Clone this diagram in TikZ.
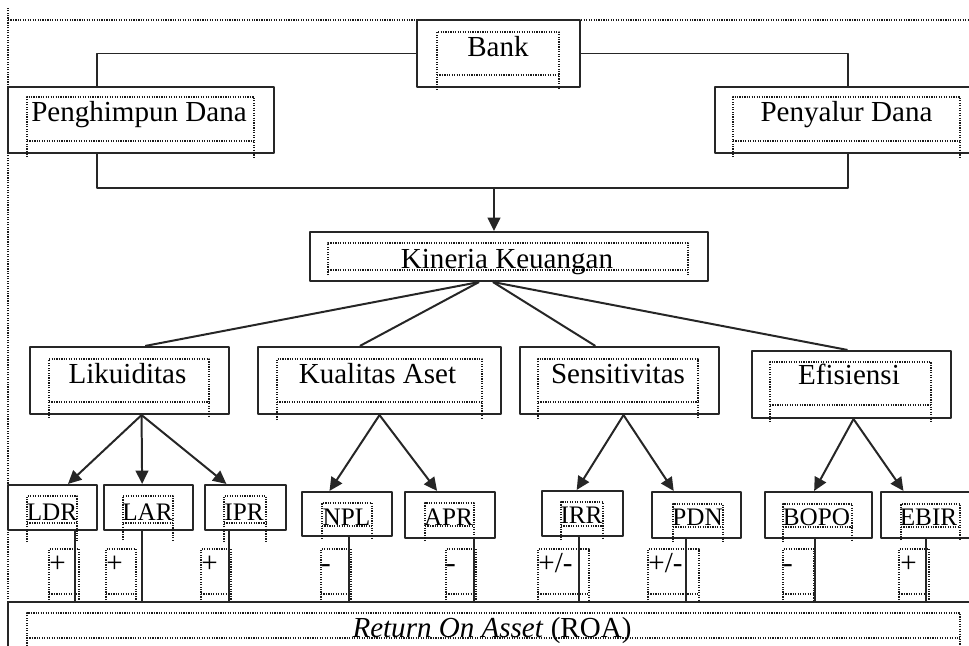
\documentclass[tikz,border=0pt]{standalone}
\usepackage{fontspec}
\setmainfont{Liberation Serif}
\usetikzlibrary{arrows.meta,fit,calc}
% dotted text frame: x1, y1, x2, y2 (bottom line), y3 (end of sides)
\newcommand{\frm}[5]{\draw[frm] (#1,#5) -- (#1,#2) -- (#3,#2) -- (#3,#5) (#1,#4) -- (#3,#4);}

\begin{document}
\begin{tikzpicture}[x=0.03cm,y=-0.03cm,line join=round,
  >={Triangle[length=4mm,width=3.8mm]},
  box/.style={draw=black!85,line width=1.8pt,inner sep=0pt},
  cn/.style={draw=black!85,line width=1.7pt},
  txt/.style={anchor=base,inner sep=0pt,font=\fontsize{24.8}{28}\selectfont},
  sml/.style={txt,font=\fontsize{21.5}{24}\selectfont},
  frm/.style={black!90,line width=1pt,dash pattern=on 1pt off 1.1pt}]
\useasboundingbox (0,0) rectangle (969,646);
\clip (0,0) rectangle (969,646);

% outer frame
\draw[frm] (8,646) -- (8,8);
\draw[frm] (8,20) -- (969,20);

% boxes
\node[box,fit={(417,20) (580,87)}] (bank) {};
\node[box,fit={(8,87) (274,153)}] (pengh) {};
\node[box,fit={(715,87) (975,153)}] (penya) {};
\node[box,fit={(310,232) (708,281)}] (kin) {};
\node[box,fit={(30,347) (229,414)}] (lik) {};
\node[box,fit={(258,347) (501,414)}] (kual) {};
\node[box,fit={(520,347) (719,414)}] (sens) {};
\node[box,fit={(752,351) (951,418)}] (efis) {};
\node[box,fit={(8,485) (97,530)}] (ldr) {};
\node[box,fit={(104,485) (193,530)}] (lar) {};
\node[box,fit={(205,485) (286,530)}] (ipr) {};
\node[box,fit={(302,492) (392,536)}] (npl) {};
\node[box,fit={(405,492) (495,538)}] (apr) {};
\node[box,fit={(542,491) (623,536)}] (irr) {};
\node[box,fit={(652,492) (741,538)}] (pdn) {};
\node[box,fit={(765,492) (872,538)}] (bopo) {};
\node[box,fit={(881,492) (975,538)}] (ebir) {};
\node[box,fit={(8,602) (975,670)}] (roa) {};

% text frames
\frm{437}{32}{559}{75}{90}
\frm{27}{97}{254}{141}{157}
\frm{733}{97}{960}{141}{157}
\frm{328}{243}{688}{270}{275}
\frm{49}{359}{209}{402}{418}
\frm{277}{359}{482}{402}{420}
\frm{538}{359}{698}{402}{419}
\frm{770}{362}{931}{405}{422}
\frm{27}{496}{77}{523}{542}
\frm{123}{496}{173}{523}{540}
\frm{224}{496}{266}{523}{542}
\frm{322}{503}{372}{526}{539}
\frm{425}{503}{474}{526}{541}
\frm{561}{502}{603}{526}{540}
\frm{673}{504}{723}{527}{542}
\frm{783}{504}{852}{527}{542}
\frm{901}{504}{960}{527}{540}
\foreach \xa/\xb in {49/79,106/136,201/231,321/351,446/476,538/589,648/699,783/814,899/929}
  {\frm{\xa}{549}{\xb}{594}{600}}
\frm{27}{613}{960}{638}{646}

% texts
\node[txt] (bankT) at (498,57) {Bank};
\node[txt] (penghT) at (139,122) {Penghimpun Dana};
\node[txt] (penyaT) at (846.5,122) {Penyalur Dana};
\node[txt] (kinT) at (507,268) {Kineria Keuangan};
\node[txt] (likT) at (127.5,383) {Likuiditas};
\node[txt] (kualT) at (377.5,383) {Kualitas Aset};
\node[txt] (sensT) at (618,383) {Sensitivitas};
\node[txt] (efisT) at (849,384) {Efisiensi};
\node[sml] (ldrT) at (52,520) {LDR};
\node[sml] (larT) at (147.5,520) {LAR};
\node[sml] (iprT) at (244,520) {IPR};
\node[sml] (nplT) at (346.5,525) {NPL};
\node[sml] (aprT) at (448.5,525) {APR};
\node[sml] (irrT) at (581.5,523) {IRR};
\node[sml] (pdnT) at (697.5,525) {PDN};
\node[sml] (bopoT) at (816.5,525) {BOPO};
\node[sml] (ebirT) at (928.5,525) {EBIR};
\foreach \x/\s [count=\i] in {57.5/+,114.5/+,209.5/+,326/-,451/-,555.5/{+/-},665.5/{+/-},788/-,908.5/+}
  {\node[txt] (sign\i) at (\x,572) {\s};}
\node[txt] (roaT) at (492,637) {\textit{Return On Asset} (ROA)};

% bank to its two sides
\draw[cn] (bank.west) -| ($(pengh.north west)!0.335!(pengh.north east)$);
\draw[cn] (bank.east) -| ($(penya.north west)!0.51!(penya.north east)$);
\coordinate (mrg) at (494,188);
\draw[cn] ($(pengh.south west)!0.335!(pengh.south east)$) |- (mrg)
  -| ($(penya.south west)!0.51!(penya.south east)$);
\draw[cn,->] (mrg) -- (mrg |- kin.north);

% kinerja to the four aspects
\foreach \f/\b/\fb in {0.425/lik/0.578,0.425/kual/0.42,0.46/sens/0.38,0.46/efis/0.48}
  {\draw[cn] ($(kin.south west)!\f!(kin.south east)$) -- ($(\b.north west)!\fb!(\b.north east)$);}

% aspects to ratios
\foreach \a/\fa/\b/\fb in {lik/0.56/ldr/0.67,lik/0.56/lar/0.43,lik/0.56/ipr/0.27,
    kual/0.5/npl/0.31,kual/0.5/apr/0.36,sens/0.52/irr/0.43,sens/0.52/pdn/0.25,
    efis/0.51/bopo/0.46,efis/0.51/ebir/0.245}
  {\draw[cn,->] ($(\a.south west)!\fa!(\a.south east)$) -- ($(\b.north west)!\fb!(\b.north east)$);}

% ratios down to ROA
\foreach \n/\f in {ldr/0.75,lar/0.43,ipr/0.3,npl/0.52,apr/0.76,irr/0.46,pdn/0.38,bopo/0.47,ebir/0.48}
  {\draw[cn] ($(\n.south west)!\f!(\n.south east)$) coordinate (v) -- (v |- roa.north);}
\end{tikzpicture}
\end{document}
